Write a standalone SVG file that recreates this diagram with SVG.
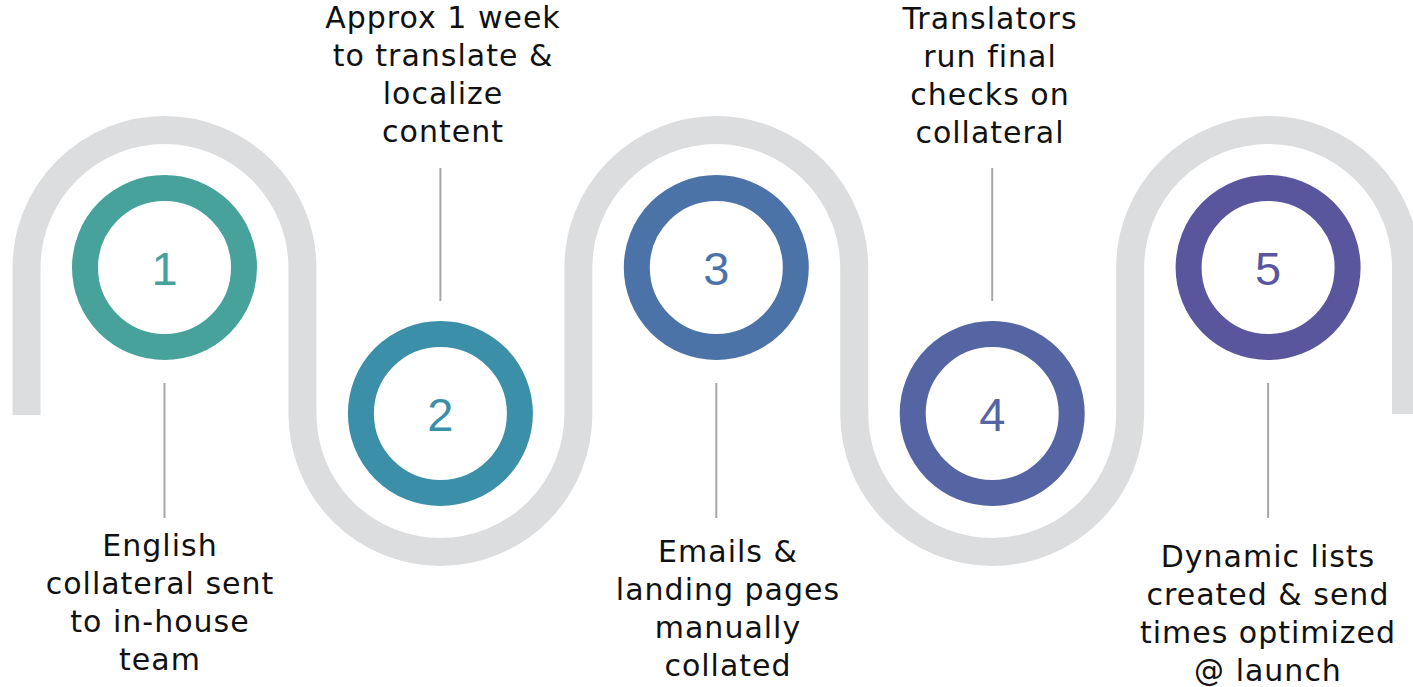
<svg xmlns="http://www.w3.org/2000/svg" width="1413" height="687" viewBox="0 0 1413 687">
<style>
.track{fill:none;stroke:#dcdddf;stroke-width:28;stroke-linecap:butt}
.ring{fill:#fff;stroke-width:26}
.num{font-family:"Liberation Sans",Arial,sans-serif;font-size:47px;text-anchor:middle}
.lbl{font-family:"DejaVu Sans","Open Sans",sans-serif;font-size:30px;letter-spacing:1px;fill:#111;text-anchor:middle}
.conn{stroke:#a6a6a6;stroke-width:2}
</style>
<rect width="1413" height="687" fill="#fff"/>
<g id="track">
<path class="track" d="M26.55,415 V268 A137.95,137.95 0 0 1 302.45,268 V414 A137.95,137.95 0 0 0 578.35,414 V268 A137.95,137.95 0 0 1 854.25,268 V414 A137.95,137.95 0 0 0 1130.15,414 V268 A137.95,137.95 0 0 1 1406.05,268 V414"/>
</g>
<g id="connectors">
<line class="conn" x1="164.5" y1="383" x2="164.5" y2="518"/>
<line class="conn" x1="440.4" y1="168" x2="440.4" y2="301"/>
<line class="conn" x1="716.3" y1="383" x2="716.3" y2="518"/>
<line class="conn" x1="992.2" y1="168" x2="992.2" y2="301"/>
<line class="conn" x1="1268.1" y1="383" x2="1268.1" y2="518"/>
</g>
<g id="node1">
<circle class="ring" cx="164.5" cy="267.5" r="79.5" stroke="#46a29b"/>
<text class="num" x="164.5" y="284.5" fill="#46a29b">1</text>
<text class="lbl"><tspan x="160" y="556">English</tspan><tspan x="160" y="594">collateral sent</tspan><tspan x="160" y="632">to in-house</tspan><tspan x="160" y="670">team</tspan></text>
</g>
<g id="node2">
<circle class="ring" cx="440.4" cy="413.5" r="79.5" stroke="#3b8fa9"/>
<text class="num" x="440.4" y="430.5" fill="#3b8fa9">2</text>
<text class="lbl"><tspan x="443" y="28">Approx 1 week</tspan><tspan x="443" y="66">to translate &amp;</tspan><tspan x="443" y="104">localize</tspan><tspan x="443" y="142">content</tspan></text>
</g>
<g id="node3">
<circle class="ring" cx="716.3" cy="267.5" r="79.5" stroke="#4b73a8"/>
<text class="num" x="716.3" y="284.5" fill="#4b73a8">3</text>
<text class="lbl"><tspan x="728" y="562">Emails &amp;</tspan><tspan x="728" y="600">landing pages</tspan><tspan x="728" y="638">manually</tspan><tspan x="728" y="676">collated</tspan></text>
</g>
<g id="node4">
<circle class="ring" cx="992.2" cy="413.5" r="79.5" stroke="#5565a3"/>
<text class="num" x="992.2" y="430.5" fill="#5565a3">4</text>
<text class="lbl"><tspan x="990" y="29">Translators</tspan><tspan x="990" y="67">run final</tspan><tspan x="990" y="105">checks on</tspan><tspan x="990" y="143">collateral</tspan></text>
</g>
<g id="node5">
<circle class="ring" cx="1268.1" cy="267.5" r="79.5" stroke="#5a569d"/>
<text class="num" x="1268.1" y="284.5" fill="#5a569d">5</text>
<text class="lbl"><tspan x="1268" y="567">Dynamic lists</tspan><tspan x="1268" y="605">created &amp; send</tspan><tspan x="1268" y="643">times optimized</tspan><tspan x="1268" y="681">@ launch</tspan></text>
</g>
</svg>
